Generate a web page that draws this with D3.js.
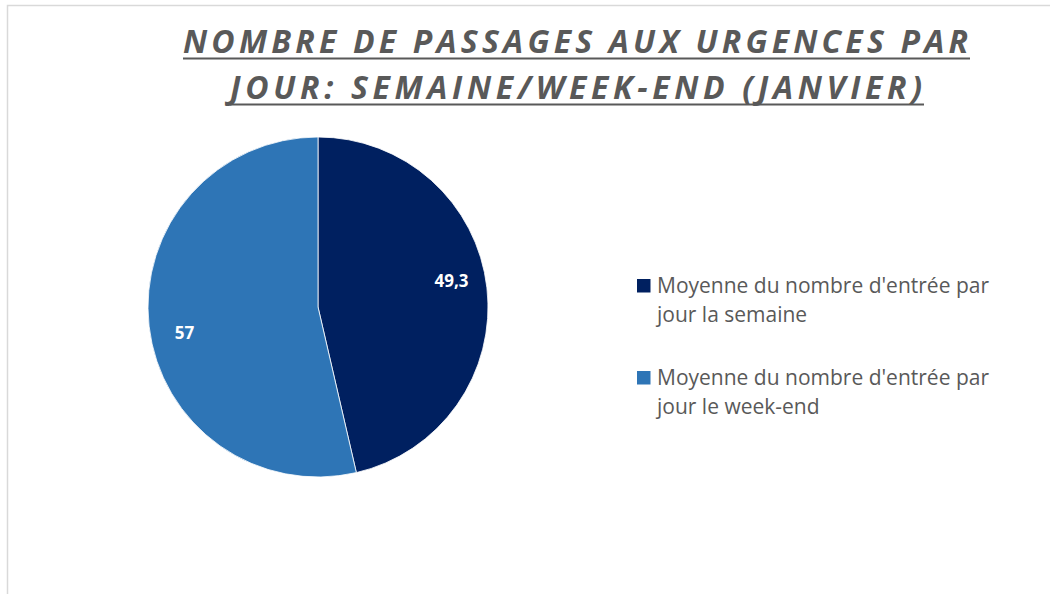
<!DOCTYPE html>
<html>
<head>
<meta charset="utf-8">
<script src="https://cdn.jsdelivr.net/npm/d3@7"></script>
<style>
  body { margin: 0; background: #fff; }
  svg { display: block; }
</style>
</head>
<body>
<div id="chart"></div>
<script>
const categories = ["Moyenne du nombre d'entrée par jour la semaine", "Moyenne du nombre d'entrée par jour le week-end"];
const values = [49.3, 57];
const labels = ["49,3", "57"];
const titleLines = ["NOMBRE DE PASSAGES AUX URGENCES PAR", "JOUR: SEMAINE/WEEK-END (JANVIER)"];
const legendLines = [["Moyenne du nombre d'entrée par", "jour la semaine"], ["Moyenne du nombre d'entrée par", "jour le week-end"]];

const width = 1050, height = 594;
const svg = d3.select("#chart").append("svg")
  .attr("width", width).attr("height", height);

// chart border (only top + left show in the frame)
svg.append("rect")
  .attr("x", 7.5).attr("y", 5.5)
  .attr("width", 1100).attr("height", 700)
  .attr("fill", "none").attr("stroke", "#d9d9d9").attr("stroke-width", 1.5);

// title, stretched with letter-spacing to the width of the original
const titleFont = "'Open Sans', sans-serif";
const titleSpan = [[183, 968], [230, 922]];
const titleY = [53, 99];
titleLines.forEach((line, i) => {
  const t = svg.append("text")
    .attr("x", 0).attr("y", titleY[i])
    .style("font-family", titleFont)
    .style("font-size", "32px")
    .style("font-weight", "bold")
    .style("font-style", "italic")
    .style("fill", "#595959")
    .text(line);
  const w = t.node().getComputedTextLength();
  const target = titleSpan[i][1] - titleSpan[i][0];
  const ls = (target - w) / (line.length - 1);
  t.style("letter-spacing", ls + "px").attr("x", titleSpan[i][0]);
  svg.append("line")
    .attr("x1", titleSpan[i][0]).attr("x2", titleSpan[i][1] + 2)
    .attr("y1", titleY[i] + 5.5).attr("y2", titleY[i] + 5.5)
    .attr("stroke", "#595959").attr("stroke-width", 2);
});

// pie
const cx = 318, cy = 307, r = 170;
const color = d3.scaleOrdinal().domain(categories).range(["#002060", "#2e75b6"]);
const pie = d3.pie().sort(null).value(d => d)(values);
const arc = d3.arc().innerRadius(0).outerRadius(r);
const labelR = 136, labelShift = -0.08; // excel places labels a bit counter-clockwise

const g = svg.append("g").attr("transform", `translate(${cx},${cy})`);
g.selectAll("path.slice")
  .data(pie)
  .join("path")
  .attr("class", "slice")
  .attr("d", arc)
  .attr("fill", (d, i) => color(categories[i]))
  .attr("stroke", "#fff").attr("stroke-width", 0.8);

g.selectAll("text.lbl")
  .data(pie)
  .join("text")
  .attr("class", "lbl")
  .attr("transform", d => {
    const a = (d.startAngle + d.endAngle) / 2 + labelShift;
    return `translate(${labelR * Math.sin(a)},${-labelR * Math.cos(a)})`;
  })
  .attr("text-anchor", "middle")
  .attr("dy", "0.36em")
  .style("font-family", "'Open Sans', sans-serif")
  .style("font-size", "17px")
  .style("font-weight", "bold")
  .style("fill", "#fff")
  .text((d, i) => labels[i]);

// legend
const legY = [279, 371];
const leg = svg.selectAll("g.leg")
  .data(categories)
  .join("g")
  .attr("class", "leg")
  .attr("transform", (d, i) => `translate(637,${legY[i]})`);
leg.append("rect")
  .attr("width", 13.5).attr("height", 13.5)
  .attr("fill", d => color(d));
leg.each(function (d, i) {
  const t = d3.select(this).append("text")
    .style("font-family", "'Open Sans', sans-serif")
    .style("font-size", "21px")
    .style("fill", "#595959");
  legendLines[i].forEach((s, j) => {
    t.append("tspan").attr("x", 20).attr("y", 14 + j * 28.5).text(s);
  });
});
</script>
</body>
</html>
